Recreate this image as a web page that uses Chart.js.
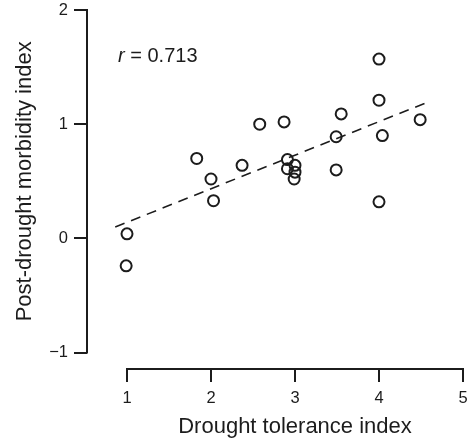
<!DOCTYPE html>
<html><head><meta charset="utf-8">
<script src="https://cdn.jsdelivr.net/npm/chart.js@4.4.0/dist/chart.umd.min.js"></script>
<style>html,body{margin:0;padding:0;background:#fff;}canvas{display:block;}</style>
</head><body>
<canvas id="c" width="468" height="439"></canvas>
<script>
// ---- data ----
const toleranceIndex = [1.00, 0.99, 1.83, 2.00, 2.03, 2.37, 2.58, 2.87, 2.91, 2.91, 3.00, 3.00, 2.99, 3.49, 3.49, 3.55, 4.00, 4.00, 4.04, 4.00, 4.49];
const morbidityIndex = [0.04, -0.24, 0.70, 0.52, 0.33, 0.64, 1.00, 1.02, 0.69, 0.61, 0.64, 0.58, 0.52, 0.89, 0.60, 1.09, 1.57, 1.21, 0.90, 0.32, 1.04];
const fitX = [0.86, 4.57];
const fitY = [0.10, 1.19];
const xTicks = [1, 2, 3, 4, 5];
const yTicks = [-1, 0, 1, 2];
const xTitle = 'Drought tolerance index';
const yTitle = 'Post-drought morbidity index';
const rLabelVar = 'r';
const rLabelRest = ' = 0.713';

const INK = '#1c1c1c';
const FONT = '"Liberation Sans", Arial, Helvetica, sans-serif';

const pts = toleranceIndex.map((v, i) => ({x: v, y: morbidityIndex[i]}));
const fit = fitX.map((v, i) => ({x: v, y: fitY[i]}));

const zeroPad = s => { s.paddingLeft = 0; s.paddingRight = 0; s.paddingTop = 0; s.paddingBottom = 0; };

const decor = {
  id: 'decor',
  afterDraw(chart) {
    const {ctx, scales: {x, y}, chartArea: a} = chart;
    ctx.save();
    ctx.strokeStyle = INK;
    ctx.lineWidth = 2;
    ctx.lineCap = 'butt';
    const y0 = y.getPixelForValue(yTicks[0]), y1 = y.getPixelForValue(yTicks[yTicks.length - 1]);
    ctx.beginPath();
    ctx.moveTo(a.left, y0 + 1);
    ctx.lineTo(a.left, y1 - 1);
    ctx.stroke();
    const x0 = x.getPixelForValue(xTicks[0]), x1 = x.getPixelForValue(xTicks[xTicks.length - 1]);
    ctx.beginPath();
    ctx.moveTo(x0 - 1, a.bottom);
    ctx.lineTo(x1 + 1, a.bottom);
    ctx.stroke();

    ctx.fillStyle = INK;
    ctx.font = '22px ' + FONT;
    ctx.textAlign = 'center';
    ctx.textBaseline = 'alphabetic';
    ctx.fillText(xTitle, (x0 + x1) / 2, 433);
    ctx.save();
    ctx.translate(31, (y0 + y1) / 2);
    ctx.rotate(-Math.PI / 2);
    ctx.fillText(yTitle, 0, 0);
    ctx.restore();
    ctx.textAlign = 'left';
    ctx.textBaseline = 'middle';
    ctx.font = 'italic 20px ' + FONT;
    const lx = 118, ly = 56;
    ctx.fillText(rLabelVar, lx, ly);
    const w = ctx.measureText(rLabelVar).width;
    ctx.font = '20px ' + FONT;
    ctx.fillText(rLabelRest, lx + w, ly);
    ctx.restore();
  }
};

new Chart(document.getElementById('c'), {
  type: 'scatter',
  data: {
    datasets: [
      {
        data: pts,
        pointStyle: 'circle',
        pointRadius: 5.5,
        pointHoverRadius: 5.5,
        pointBorderWidth: 2,
        pointBorderColor: INK,
        pointBackgroundColor: 'rgba(0,0,0,0)',
        showLine: false,
        order: 1
      },
      {
        type: 'line',
        data: fit,
        borderColor: INK,
        borderWidth: 1.6,
        borderDash: [10, 7],
        pointRadius: 0,
        fill: false,
        tension: 0,
        order: 2
      }
    ]
  },
  options: {
    responsive: false,
    animation: false,
    events: [],
    layout: {autoPadding: false, padding: {top: 10, right: 0, left: 0, bottom: 0}},
    plugins: {legend: {display: false}, tooltip: {enabled: false}, title: {display: false}},
    scales: {
      x: {
        type: 'linear',
        position: 'bottom',
        min: 1 - 40 / 84,
        max: 1 - 40 / 84 + 381 / 84,
        afterBuildTicks: s => { s.ticks = xTicks.map(v => ({value: v})); },
        afterFit: s => { s.height = 70; zeroPad(s); },
        border: {display: false},
        grid: {drawOnChartArea: false, drawTicks: true, tickLength: 13, color: INK, lineWidth: 2},
        ticks: {color: INK, font: {family: FONT, size: 16.5}, padding: 7, maxRotation: 0, autoSkip: false, callback: v => String(v)}
      },
      y: {
        type: 'linear',
        position: 'left',
        min: 2 - 359 / 114.2,
        max: 2,
        afterBuildTicks: s => { s.ticks = yTicks.map(v => ({value: v})); },
        afterFit: s => { s.width = 87; zeroPad(s); },
        border: {display: false},
        grid: {drawOnChartArea: false, drawTicks: true, tickLength: 13, color: INK, lineWidth: 2},
        ticks: {color: INK, font: {family: FONT, size: 16.5}, padding: 6, callback: v => (v < 0 ? '\u2212' + Math.abs(v) : String(v))}
      }
    }
  },
  plugins: [decor]
});
</script>
</body></html>
